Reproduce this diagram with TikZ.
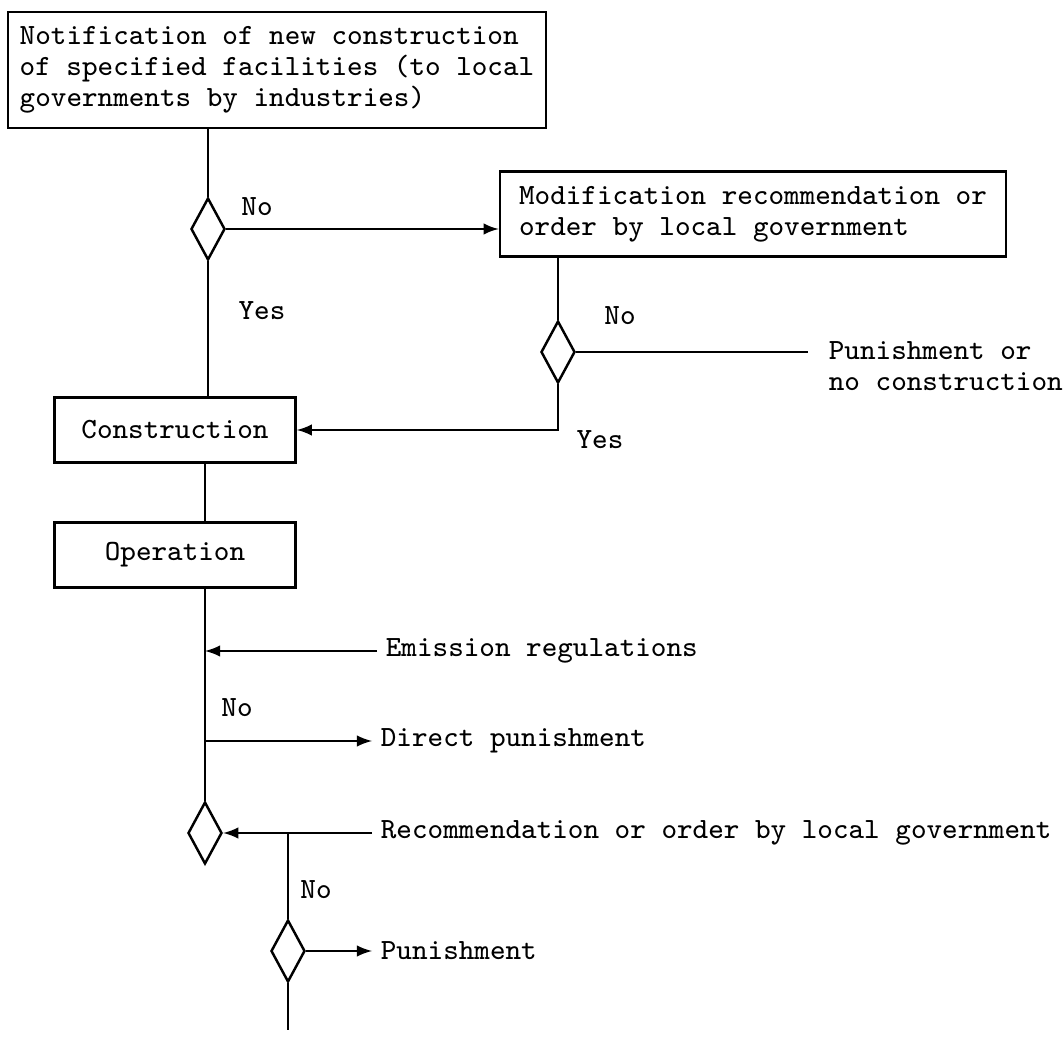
\documentclass[tikz,border=0pt]{standalone}
\usetikzlibrary{shapes.geometric}

\tikzstyle{base}=[rectangle,
                  draw=black,
                  line width=0.7pt,
                  font=\fontsize{8.35}{8.8}\selectfont\ttfamily]
\tikzstyle{notice}=[base, align=left]
\tikzstyle{stage}=[base, minimum width=2.41cm, minimum height=0.65cm, text centered]
\tikzstyle{decision}=[diamond, draw=black, line width=0.7pt,
                      minimum width=0.34cm, minimum height=0.62cm, inner sep=0pt]
\tikzstyle{outcome}=[anchor=west, inner xsep=0.08cm, inner ysep=0pt, align=left,
                     font=\fontsize{8.35}{8.8}\selectfont\ttfamily]
\tikzstyle{answer}=[inner sep=0pt, font=\fontsize{8.35}{8.8}\selectfont\ttfamily]

\begin{document}
\begin{tikzpicture}[x=0.01cm, y=-0.01cm, line width=0.5pt]
    \useasboundingbox (0,0) rectangle (1063,1037);

      \node at (277,  70) (notification) [notice, minimum width=5.36cm, minimum height=1.16cm]
            {Notification of new construction\\of specified facilities (to local\\governments by industries)};
      \node at (208, 229) (check_plan)   [decision] {};
      \node at (753, 214) (modification) [notice, minimum width=5.06cm, minimum height=0.85cm]
            {Modification recommendation or\\order by local government};
      \node at (558, 352) (check_mod)    [decision] {};
      \node at (820, 366) (no_build)     [outcome] {Punishment or\\no construction};
      \node at (175, 430) (construction) [stage] {Construction};
      \node at (175, 555) (operation)    [stage] {Operation};
      \node at (205, 833) (check_ops)    [decision] {};
      \node at (288, 951) (check_fine)   [decision] {};
      \node at (377, 651) (emission)     [outcome] {Emission regulations};
      \node at (372, 741) (direct_pun)   [outcome] {Direct punishment};
      \node at (372, 833) (recommend)    [outcome] {Recommendation or order by local government};
      \node at (372, 951) (punishment)   [outcome] {Punishment};
      \coordinate (tail) at (288, 1030);

      % answers
      \node at (257, 207) (no_plan)  [answer] {No};
      \node at (262, 311) (yes_plan) [answer] {Yes};
      \node at (620, 316) (no_mod)   [answer] {No};
      \node at (600, 440) (yes_mod)  [answer] {Yes};
      \node at (237, 708) (no_ops)   [answer] {No};
      \node at (316, 890) (no_fine)  [answer] {No};

      \draw (notification.south -| check_plan.north) -- (check_plan.north);
      \draw[-latex] (check_plan.east) -- (modification.west |- check_plan.east);
      \draw (check_plan.south) -- (construction.north -| check_plan.south);
      \draw (modification.south -| check_mod.north) -- (check_mod.north);
      \draw[shorten >=0.12cm] (check_mod.east) -- (check_mod.east -| no_build.west);
      \draw[-latex] (check_mod.south) |- (construction.east);
      \draw (construction.south -| check_ops.north) -- (operation.north -| check_ops.north);
      \draw (operation.south -| check_ops.north) -- (check_ops.north);
      \draw[-latex] (emission.west) -- (emission.west -| check_ops.north);
      \draw[-latex] (direct_pun.west -| check_ops.north) -- (direct_pun.west);
      \draw[-latex] (recommend.west) -- (check_ops.east);
      \draw (recommend.west -| check_fine.north) -- (check_fine.north);
      \draw[-latex] (check_fine.east) -- (punishment.west);
      \draw (check_fine.south) -- (tail);
  \end{tikzpicture}
\end{document}
